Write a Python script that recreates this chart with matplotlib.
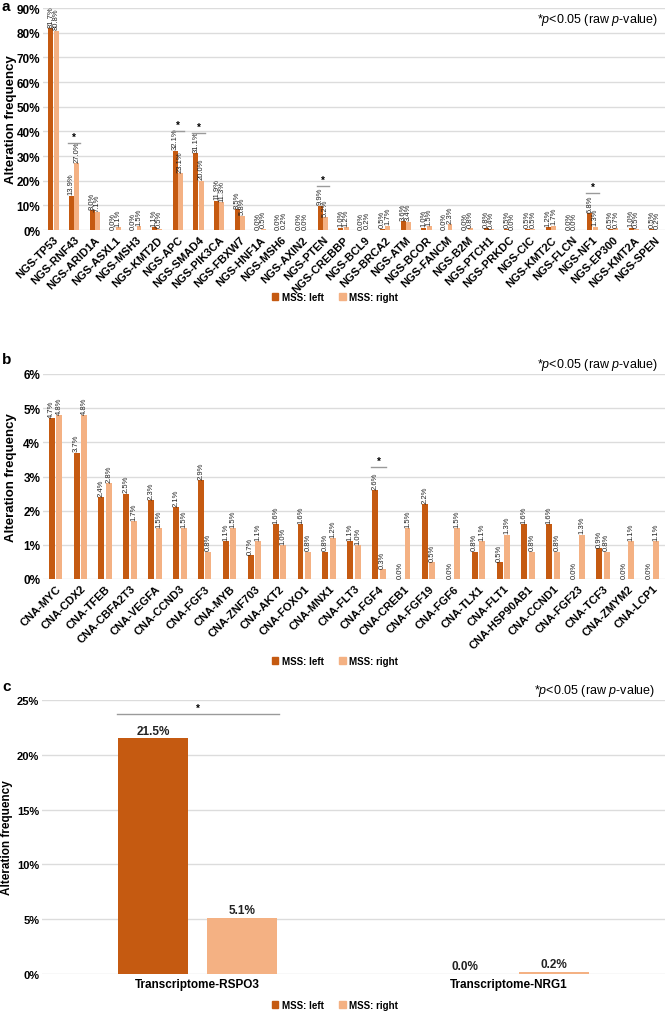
import matplotlib
matplotlib.use('Agg')
import matplotlib.pyplot as plt
from matplotlib.patches import Patch
from matplotlib.ticker import FuncFormatter
import numpy as np

plt.rcParams['font.family'] = ['Liberation Sans', 'DejaVu Sans']
plt.rcParams['mathtext.fontset'] = 'custom'
plt.rcParams['mathtext.it'] = 'Liberation Sans:italic'
plt.rcParams['mathtext.rm'] = 'Liberation Sans'

DARK = '#C55A11'
LIGHT = '#F4B183'

# panel a - NGS
ngs_genes = ['NGS-TP53', 'NGS-RNF43', 'NGS-ARID1A', 'NGS-ASXL1', 'NGS-MSH3', 'NGS-KMT2D',
             'NGS-APC', 'NGS-SMAD4', 'NGS-PIK3CA', 'NGS-FBXW7', 'NGS-HNF1A', 'NGS-MSH6',
             'NGS-AXIN2', 'NGS-PTEN', 'NGS-CREBBP', 'NGS-BCL9', 'NGS-BRCA2', 'NGS-ATM',
             'NGS-BCOR', 'NGS-FANCM', 'NGS-B2M', 'NGS-PTCH1', 'NGS-PRKDC', 'NGS-CIC',
             'NGS-KMT2C', 'NGS-FLCN', 'NGS-NF1', 'NGS-EP300', 'NGS-KMT2A', 'NGS-SPEN']
ngs_left = [81.7, 13.9, 8.0, 0.0, 0.0, 1.1, 32.1, 31.1, 11.9, 8.5, 0.0, 0.0, 0.0, 9.9, 1.0,
            0.0, 0.5, 3.6, 1.0, 0.0, 0.0, 0.8, 0.5, 0.5, 1.2, 0.0, 6.8, 0.5, 1.0, 0.5]
ngs_right = [80.8, 27.0, 7.1, 1.1, 1.5, 0.5, 23.1, 20.0, 11.3, 5.8, 0.5, 0.2, 0.0, 5.2, 1.2,
             0.2, 1.7, 3.4, 1.5, 2.3, 0.8, 0.4, 0.0, 0.5, 1.7, 0.0, 1.3, 0.7, 0.5, 0.2]
ngs_sig = ['NGS-RNF43', 'NGS-APC', 'NGS-SMAD4', 'NGS-PTEN', 'NGS-NF1']

# panel b - CNA
cna_genes = ['CNA-MYC', 'CNA-CDX2', 'CNA-TFEB', 'CNA-CBFA2T3', 'CNA-VEGFA', 'CNA-CCND3',
             'CNA-FGF3', 'CNA-MYB', 'CNA-ZNF703', 'CNA-AKT2', 'CNA-FOXO1', 'CNA-MNX1',
             'CNA-FLT3', 'CNA-FGF4', 'CNA-CREB1', 'CNA-FGF19', 'CNA-FGF6', 'CNA-TLX1',
             'CNA-FLT1', 'CNA-HSP90AB1', 'CNA-CCND1', 'CNA-FGF23', 'CNA-TCF3', 'CNA-ZMYM2',
             'CNA-LCP1']
cna_left = [4.7, 3.7, 2.4, 2.5, 2.3, 2.1, 2.9, 1.1, 0.7, 1.6, 1.6, 0.8, 1.1, 2.6, 0.0,
            2.2, 0.0, 0.8, 0.5, 1.6, 1.6, 0.0, 0.9, 0.0, 0.0]
cna_right = [4.8, 4.8, 2.8, 1.7, 1.5, 1.5, 0.8, 1.5, 1.1, 1.0, 0.8, 1.2, 1.0, 0.3, 1.5,
             0.5, 1.5, 1.1, 1.3, 0.8, 0.8, 1.3, 0.8, 1.1, 1.1]
cna_sig = ['CNA-FGF4']

# panel c - transcriptome
tx_genes = ['Transcriptome-RSPO3', 'Transcriptome-NRG1']
tx_left = [21.5, 0.0]
tx_right = [5.1, 0.2]
tx_sig = ['Transcriptome-RSPO3']

W, H = 670, 1012
fig = plt.figure(figsize=(W / 100, H / 100), dpi=100)


def px_axes(top, bottom, left=43, right=665):
    return fig.add_axes([left / W, 1 - bottom / H, (right - left) / W, (bottom - top) / H])


def draw_panel(ax, cats, left, right, sig, ymax, ystep, width, off, sig_gap,
               val_rot=90, val_size=5.5, tick_rot=45, tick_size=8, line_half=0.3,
               ytick_size=8.5, ylab_x=-0.042, ylab_size=9.5):
    x = np.arange(len(cats))
    ax.bar(x - off, left, width, color=DARK, zorder=3)
    ax.bar(x + off, right, width, color=LIGHT, zorder=3)
    for xs, vals in ((x - off, left), (x + off, right)):
        for xi, v in zip(xs, vals):
            ax.text(xi, v + ymax * 0.006, f'{v:.1f}%', rotation=val_rot, ha='center',
                    va='bottom', fontsize=val_size, color='#222222',
                    fontweight='bold' if val_rot == 0 else 'normal')
    for name in sig:
        i = cats.index(name)
        yl = max(left[i], right[i]) + ymax * sig_gap
        ax.plot([i - line_half, i + line_half], [yl, yl], color='#9a9a9a', lw=1, zorder=4,
                clip_on=False)
        ax.text(i, yl + ymax * 0.005, '*', ha='center', va='bottom', fontsize=7,
                fontweight='bold')
    ax.set_xlim(-0.5, len(cats) - 0.5)
    ax.set_ylim(0, ymax)
    ax.set_yticks(np.arange(0, ymax + ystep / 2, ystep))
    ax.yaxis.set_major_formatter(FuncFormatter(lambda v, p: f'{v:.0f}%'))
    ax.set_xticks(x)
    if tick_rot:
        ax.set_xticklabels(cats, rotation=tick_rot, ha='right', rotation_mode='anchor',
                           fontsize=tick_size, fontweight='bold')
    else:
        ax.set_xticklabels(cats, fontsize=tick_size, fontweight='bold')
    ax.tick_params(axis='both', length=0, pad=3)
    ax.tick_params(axis='y', labelsize=ytick_size, pad=2)
    for lab in ax.get_yticklabels():
        lab.set_fontweight('bold')
    for s in ax.spines.values():
        s.set_visible(False)
    ax.grid(axis='y', color='#dcdcdc', lw=1)
    ax.set_axisbelow(True)
    ax.set_ylabel('Alteration frequency', fontsize=ylab_size, fontweight='bold')
    ax.yaxis.set_label_coords(ylab_x, 0.5)


def legend_at(ypx):
    handles = [Patch(color=DARK, label='MSS: left'), Patch(color=LIGHT, label='MSS: right')]
    fig.legend(handles=handles, loc='center', bbox_to_anchor=(0.5, 1 - ypx / H), ncol=2,
               frameon=False, handlelength=0.7, handleheight=0.7,
               handletextpad=0.4, columnspacing=1.5, prop={'weight': 'bold', 'size': 7})


note = r'*$\it{p}$<0.05 (raw $\it{p}$-value)'

ax_a = px_axes(9, 231)
draw_panel(ax_a, ngs_genes, ngs_left, ngs_right, ngs_sig, 90, 10, 0.24, 0.13, 0.09,
           line_half=0.3)
legend_at(298)
fig.text(658 / W, 1 - 20 / H, note, ha='right', va='center', fontsize=9)
fig.text(2 / W, 1 - 7 / H, 'a', fontsize=11, fontweight='bold', va='center')

ax_b = px_axes(375, 580)
draw_panel(ax_b, cna_genes, cna_left, cna_right, cna_sig, 6, 1, 0.24, 0.15, 0.115,
           line_half=0.3)
legend_at(662)
fig.text(658 / W, 1 - 365 / H, note, ha='right', va='center', fontsize=9)
fig.text(2 / W, 1 - 360 / H, 'b', fontsize=11, fontweight='bold', va='center')

ax_c = px_axes(701, 975, left=42)
draw_panel(ax_c, tx_genes, tx_left, tx_right, tx_sig, 25, 5, 0.225, 0.143, 0.088,
           val_rot=0, val_size=8.5, tick_rot=0, tick_size=8.5, line_half=0.26,
           ytick_size=8, ylab_x=-0.046, ylab_size=8.5)
legend_at(1006)
fig.text(655 / W, 1 - 691 / H, note, ha='right', va='center', fontsize=9)
fig.text(2 / W, 1 - 687 / H, 'c', fontsize=11, fontweight='bold', va='center')

fig.savefig('out.png', dpi=100)
